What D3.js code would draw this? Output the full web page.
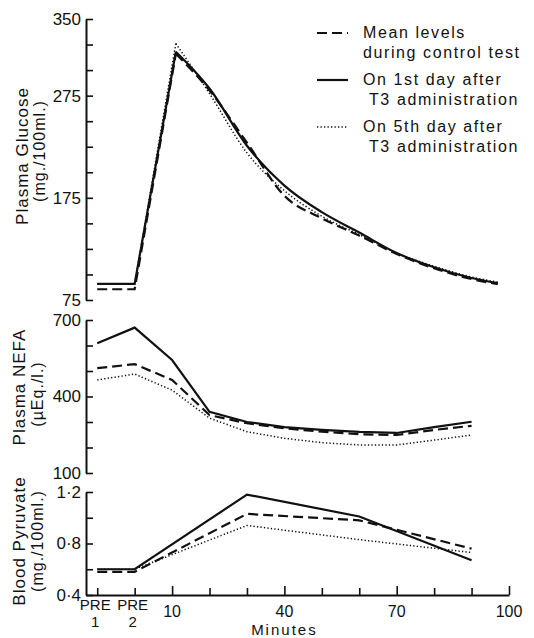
<!DOCTYPE html>
<html>
<head>
<meta charset="utf-8">
<script src="https://cdn.jsdelivr.net/npm/d3@7"></script>
<style>
body { margin: 0; background: #fff; }
text { font-family: "Liberation Sans", Arial, sans-serif; fill: #111; }
</style>
</head>
<body>
<div id="chart"></div>
<script>
// minutes after glucose load, PRE 1 = -10 and PRE 2 = 0
const glucoseMinutes = [-10, 0, 11, 20, 30, 40, 50, 60, 70, 80, 90, 97];
const glucoseControl = [85.5, 85.5, 316, 280, 229, 177, 155, 138, 120, 106, 95.5, 90.5];
const glucoseDay1    = [90.7, 90.7, 318, 282, 226, 187, 161, 141, 121, 107, 96.5, 91.5];
const glucoseDay5    = [90.7, 90.7, 326, 277, 219, 182, 157, 139, 121, 108, 97.5, 92.5];

const nefaMinutes = [-10, 0, 10, 20, 30, 40, 50, 60, 70, 80, 90];
const nefaControl = [511, 527, 465, 327, 295, 275, 262, 252, 249, 269, 285];
const nefaDay1    = [609, 670, 543, 340, 300, 280, 269, 261, 257, 280, 301];
const nefaDay5    = [465, 488, 425, 315, 262, 236, 219, 210, 210, 229, 249];

const pyruvateMinutes = [-10, 0, 30, 60, 90];
const pyruvateControl = [0.58, 0.58, 1.03, 0.98, 0.76];
const pyruvateDay1    = [0.6, 0.6, 1.18, 1.01, 0.67];
const pyruvateDay5    = [0.6, 0.6, 0.94, 0.83, 0.73];

const glucoseTicks = [75, 100, 125, 150, 175, 200, 225, 250, 275, 300, 325, 350];
const glucoseLabels = [75, 175, 275, 350];
const nefaTicks = [100, 200, 300, 400, 500, 600, 700];
const nefaLabels = [100, 400, 700];
const pyruvateTicks = [0.4, 0.6, 0.8, 1.0, 1.2];
const pyruvateLabels = [0.4, 0.8, 1.2];

const xTicks = [-10, 0, 10, 20, 30, 40, 50, 60, 70, 80, 90, 100];
const xLabels = [
  {t: -10, top: "PRE", bottom: "1"},
  {t: 0, top: "PRE", bottom: "2"},
  {t: 10, top: "10"}, {t: 40, top: "40"}, {t: 70, top: "70"}, {t: 100, top: "100"}
];

const legendItems = [
  {style: "control", lines: ["Mean levels", "during control test"]},
  {style: "day1", lines: ["On 1st day after", "T3 administration"]},
  {style: "day5", lines: ["On 5th day after", "T3 administration"]}
];

const styles = {
  control: {width: 2.2, dash: "10,5"},
  day1: {width: 2.2, dash: null},
  day5: {width: 1.5, dash: "1.3,2.2"}
};

const svg = d3.select("#chart")
  .append("svg")
  .attr("width", 534)
  .attr("height", 638);

const x = d3.scaleLinear().domain([-13, 100]).range([86, 509]);

const yGlucose = d3.scaleLinear().domain([75, 350]).range([300, 19]);
const yNefa = d3.scaleLinear().domain([100, 700]).range([473, 320]);
const yPyruvate = d3.scaleLinear().domain([0.4, 1.2]).range([595, 492]);

function fmtPyr(v) { return d3.format(".1f")(v).replace(".", "·"); }

function yAxis(scale, ticks, labels, fmt) {
  const g = svg.append("g")
    .attr("transform", "translate(86,0)")
    .call(d3.axisLeft(scale)
      .tickValues(ticks)
      .tickSizeInner(-7)
      .tickSizeOuter(0)
      .tickPadding(5)
      .tickFormat(d => labels.includes(d) ? fmt(d) : ""));
  g.select(".domain").attr("stroke", "#111").attr("stroke-width", 2);
  g.selectAll(".tick line").attr("stroke", "#111").attr("stroke-width", 1.6);
  g.selectAll(".tick text")
    .attr("font-size", 17)
    .attr("font-family", "Liberation Sans, Arial, sans-serif")
    .attr("fill", "#111");
}

yAxis(yGlucose, glucoseTicks, glucoseLabels, d => d);
yAxis(yNefa, nefaTicks, nefaLabels, d => d);
yAxis(yPyruvate, pyruvateTicks, pyruvateLabels, fmtPyr);

// x axis, only at the bottom panel, ticks pointing up
const xg = svg.append("g")
  .attr("transform", "translate(0,595)")
  .call(d3.axisBottom(x).tickValues(xTicks).tickSizeInner(-7).tickSizeOuter(0).tickFormat(""));
xg.select(".domain").attr("stroke", "#111").attr("stroke-width", 2);
xg.selectAll(".tick line").attr("stroke", "#111").attr("stroke-width", 1.6)
  .attr("y2", d => [10, 40, 70, 100].includes(d) ? -9 : -7);

xLabels.forEach(l => {
  const t = svg.append("text").attr("x", x(l.t)).attr("text-anchor", "middle")
    .attr("font-size", 15);
  if (l.bottom) {
    t.attr("y", 610);
    t.append("tspan").attr("x", x(l.t) - 2).text(l.top);
    t.append("tspan").attr("x", x(l.t) - 2).attr("dy", 17).text(l.bottom);
  } else {
    t.attr("font-size", 16).attr("y", 617).text(l.top);
  }
});

svg.append("text").attr("x", x(40)).attr("y", 634.5).attr("text-anchor", "middle")
  .attr("font-size", 15).attr("letter-spacing", 2).text("Minutes");

// rotated axis titles
function yTitle(cx, cy, txt, size) {
  svg.append("text")
    .attr("transform", `translate(${cx},${cy}) rotate(-90)`)
    .attr("text-anchor", "middle")
    .attr("font-size", size)
    .attr("letter-spacing", 1)
    .text(txt);
}
yTitle(28, 156, "Plasma Glucose", 17);
yTitle(45, 151, "(mg./100ml.)", 16);
yTitle(25, 387, "Plasma NEFA", 17);
yTitle(43, 394, "(\u00b5Eq./l.)", 16);
yTitle(25, 541, "Blood Pyruvate", 17);
yTitle(43, 541, "(mg./100ml.)", 16);

function styled(sel, s) {
  sel.attr("fill", "none")
    .attr("stroke", "#111")
    .attr("stroke-width", styles[s].width)
    .attr("stroke-dasharray", styles[s].dash);
  return sel;
}

function drawSeries(times, vals, y, s, peak) {
  const pts = times.map((t, i) => [t, vals[i]]);
  const straight = d3.line().x(d => x(d[0])).y(d => y(d[1]));
  if (peak == null) {
    styled(svg.append("path").datum(pts).attr("d", straight), s);
  } else {
    const curved = d3.line().x(d => x(d[0])).y(d => y(d[1])).curve(d3.curveMonotoneX);
    styled(svg.append("path").datum(pts.slice(0, peak + 1)).attr("d", straight), s);
    styled(svg.append("path").datum(pts.slice(peak)).attr("d", curved), s);
  }
}

drawSeries(glucoseMinutes, glucoseControl, yGlucose, "control", 2);
drawSeries(glucoseMinutes, glucoseDay1, yGlucose, "day1", 2);
drawSeries(glucoseMinutes, glucoseDay5, yGlucose, "day5", 2);

drawSeries(nefaMinutes, nefaControl, yNefa, "control");
drawSeries(nefaMinutes, nefaDay1, yNefa, "day1");
drawSeries(nefaMinutes, nefaDay5, yNefa, "day5");

drawSeries(pyruvateMinutes, pyruvateControl, yPyruvate, "control");
drawSeries(pyruvateMinutes, pyruvateDay1, yPyruvate, "day1");
drawSeries(pyruvateMinutes, pyruvateDay5, yPyruvate, "day5");

// legend
legendItems.forEach((item, i) => {
  const ly = 33 + i * 47;
  styled(svg.append("line").attr("x1", 317).attr("x2", 348).attr("y1", ly).attr("y2", ly), item.style);
  svg.append("text").attr("x", 363).attr("y", ly + 5)
    .attr("font-size", 16).attr("letter-spacing", 1.6).text(item.lines[0]);
  svg.append("text").attr("x", i === 0 ? 363 : 369).attr("y", ly + 25)
    .attr("font-size", 16).attr("letter-spacing", 1.6).text(item.lines[1]);
});
</script>
</body>
</html>
